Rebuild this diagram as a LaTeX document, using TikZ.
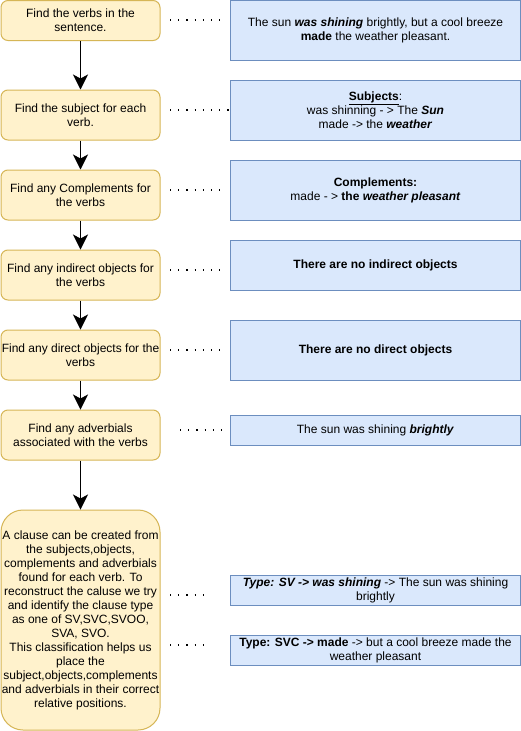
\documentclass[tikz,border=0pt]{standalone}
\usepackage{fontspec}
\setmainfont{Liberation Sans}
\usetikzlibrary{arrows.meta}
\definecolor{yelfill}{HTML}{FFF2CC}
\definecolor{yelstroke}{HTML}{D6B656}
\definecolor{bluefill}{HTML}{DAE8FC}
\definecolor{bluestroke}{HTML}{6C8EBF}
\begin{document}
\begin{tikzpicture}[x=1pt,y=-1pt,
  stepbox/.style={draw=yelstroke, fill=yelfill, line width=1pt, rounded corners=7pt,
    minimum width=159pt, align=center, inner sep=0pt,
    font=\fontsize{12}{14}\selectfont},
  notebox/.style={draw=bluestroke, fill=bluefill, line width=1pt,
    minimum width=290pt, align=center, inner sep=0pt,
    font=\fontsize{12}{14}\selectfont},
  flow/.style={line width=1pt, -{Stealth[length=15pt,width=15pt,inset=4pt]}},
  dots/.style={line width=1.2pt, dash pattern=on 1.2pt off 7pt}]
\useasboundingbox (0,0) rectangle (521,731);
\fill[white] (0,0) rectangle (521,731);

% left steps
\node[stepbox, minimum height=40pt] (s1) at (80.5,20.5) {Find the verbs in the\\sentence.};
\node[stepbox, minimum height=50pt] (s2) at (80.5,115) {Find the subject for each\\verb.};
\node[stepbox, minimum height=50pt] (s3) at (80.5,195) {Find any Complements for\\the verbs};
\node[stepbox, minimum height=50pt] (s4) at (80.5,275) {Find any indirect objects for\\the verbs};
\node[stepbox, minimum height=50pt] (s5) at (80.5,355) {Find any direct objects for the\\verbs};
\node[stepbox, minimum height=50pt] (s6) at (80.5,435) {Find any adverbials\\associated with the verbs};
\node[stepbox, minimum height=220pt, rounded corners=22pt] (s7) at (80.5,620) {A clause can be created from\\the subjects,objects,\\complements and adverbials\\found for each verb. To\\reconstruct the caluse we try\\and identify the clause type\\as one of SV,SVC,SVOO,\\SVA, SVO.\\This classification helps us\\place the\\subject,objects,complements\\and adverbials in their correct\\relative positions.};

% right notes
\node[notebox, minimum height=60pt] (n1) at (375.5,30.5) {The sun \textbf{\textit{was shining}} brightly, but a cool breeze\\\textbf{made} the weather pleasant.};
\node[notebox, minimum height=60pt] (n2) at (375.5,110) {\underline{\textbf{Subjects}}:\\was shinning - {>} The \textbf{\textit{Sun}}\\made -{>} the \textbf{\textit{weather}}};
\node[notebox, minimum height=60pt] (n3) at (375.5,190) {\textbf{Complements:}\\made - {>} \textbf{the \textit{weather pleasant}}};
\node[notebox, minimum height=50pt] (n4) at (375.5,265) {\textbf{There are no indirect objects}};
\node[notebox, minimum height=60pt] (n5) at (375.5,350) {\textbf{There are no direct objects}};
\node[notebox, minimum height=30pt] (n6) at (375.5,430) {The sun was shining \textbf{\textit{brightly}}};
\node[notebox, minimum height=30pt] (n7) at (375.5,590) {\textbf{\textit{Type: SV -{>} was shining}} -{>} The sun was shining\\brightly};
\node[notebox, minimum height=30pt] (n8) at (375.5,650) {\textbf{Type: SVC -{>} made} -{>} but a cool breeze made the\\weather pleasant};

% flow arrows
\draw[flow] (s1) -- (s2);
\draw[flow] (s2) -- (s3);
\draw[flow] (s3) -- (s4);
\draw[flow] (s4) -- (s5);
\draw[flow] (s5) -- (s6);
\draw[flow] (s6) -- (s7);

% dotted links
\coordinate (d1a) at (170,20); \coordinate (d1b) at (222,20);
\coordinate (d2a) at (170,110); \coordinate (d2b) at (230,110);
\coordinate (d3a) at (170,190); \coordinate (d3b) at (222,190);
\coordinate (d4a) at (170,270); \coordinate (d4b) at (222,270);
\coordinate (d5a) at (170,350); \coordinate (d5b) at (222,350);
\coordinate (d6a) at (180,430); \coordinate (d6b) at (224,430);
\coordinate (d7a) at (170,595); \coordinate (d7b) at (206,595);
\coordinate (d8a) at (170,645); \coordinate (d8b) at (206,645);
\foreach \i in {1,...,8} {\draw[dots] (d\i a) -- (d\i b);}
\end{tikzpicture}
\end{document}
